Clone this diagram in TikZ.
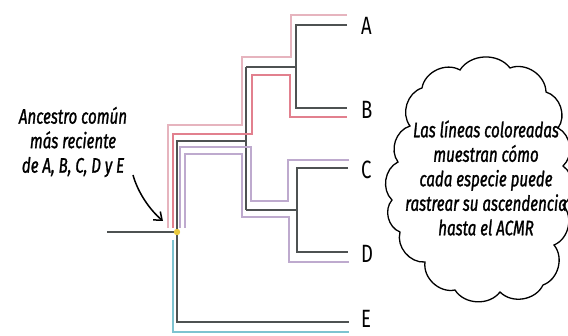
\documentclass[tikz,border=0pt]{standalone}
\usepackage{fontspec}
\usetikzlibrary{arrows.meta}
\newfontfamily\handfont[FakeStretch=0.72,FakeBold=1.2]{Fira Sans}
\newfontfamily\taxonfont[FakeStretch=0.74]{Fira Sans}
\definecolor{treegray}{RGB}{78,82,82}
\definecolor{pathpinkA}{RGB}{230,180,190}
\definecolor{pathredB}{RGB}{226,128,142}
\definecolor{pathlilac}{RGB}{190,170,206}
\definecolor{pathcyan}{RGB}{125,195,208}
\definecolor{rootyellow}{RGB}{232,200,60}
\tikzset{
  branch/.style={line width=2.6pt, treegray},
  trace/.style={line width=2.6pt, #1},
  taxon/.style={anchor=west, inner sep=0pt, font=\taxonfont\fontsize{25}{28}\selectfont},
  hand/.style={align=center, inner sep=0pt, font=\handfont\itshape\fontsize{21}{24.5}\selectfont}
}
\begin{document}
\begin{tikzpicture}[x=1pt,y=-1pt]
        \useasboundingbox (0,0) rectangle (568,336);
        %%%TREE%%%
        \coordinate (stem) at (107,232);
        \coordinate (root) at (177,232);
        \coordinate (abcd) at (246,141);
        \coordinate (ab) at (296,67);
        \coordinate (cd) at (297,210);
        \coordinate (tA) at (347,25);
        \coordinate (tB) at (347,108);
        \coordinate (tC) at (348,168);
        \coordinate (tD) at (348,252);
        \coordinate (tE) at (349,322);
        \draw[branch] (stem)--(root)|-(abcd);
        \draw[branch] (abcd|-ab)--(abcd|-cd);
        \draw[branch] (abcd|-ab)--(ab);
        \draw[branch] (abcd|-cd)--(cd);
        \draw[branch] (tA)-|(ab|-tB)--(tB);
        \draw[branch] (tC)-|(cd|-tD)--(tD);
        \draw[branch] (root)|-(tE);
        %traces
        \draw[trace=pathpinkA] (347,15)--(291,15)--(291,57)--(242,57)--(242,125)--(168,125)--(168,228);
        \draw[trace=pathredB] (347,117)--(290,117)--(290,75)--(252,75)--(252,134)--(173,134)--(173,228);
        \draw[trace=pathlilac] (349,160)--(288,160)--(288,201)--(251,201)--(251,147)--(180,147)--(180,228);
        \draw[trace=pathlilac] (349,262)--(289,262)--(289,217)--(242,217)--(242,154)--(185,154)--(185,228);
        \draw[trace=pathcyan] (173,240)--(173,332)--(349,332);
        \fill[rootyellow] (root) circle (3.2);
        %labels
        \node[taxon] (A) at (361,26) {A};
        \node[taxon] (B) at (361,110) {B};
        \node[taxon] (C) at (361,170) {C};
        \node[taxon] (D) at (361,254) {D};
        \node[taxon] (E) at (361,319) {E};
        \node[hand] (mrca) at (73,142) {Ancestro común\\más reciente\\de A, B, C, D y E};
        \coordinate (tail) at (133,175);
        \coordinate (tip) at (163,221);
        \draw[line width=1.5pt, -{Straight Barb[length=7pt,width=11pt]}] (tail) .. controls (138,193) and (150,210) .. (tip);
        %cloud
        \draw[line width=1.3pt] (410,126) to[bend left=55] (422,88) to[bend left=55] (460,70)
          to[bend left=55] (510,68) to[bend left=55] (546,92) to[bend left=55] (558,128)
          to[bend left=55] (563,166) to[bend left=55] (563,205) to[bend left=55] (554,245)
          to[bend left=55] (543,285) to[bend left=55] (500,292) to[bend left=55] (455,290)
          to[bend left=55] (425,262) to[bend left=55] (400,232) to[bend left=55] (392,200)
          to[bend left=55] (398,162) to[bend left=55] cycle;
        \node[hand] (note) at (486,178) {Las líneas coloreadas\\muestran cómo\\cada especie puede\\rastrear su ascendencia\\hasta el ACMR};
    \end{tikzpicture}
\end{document}
